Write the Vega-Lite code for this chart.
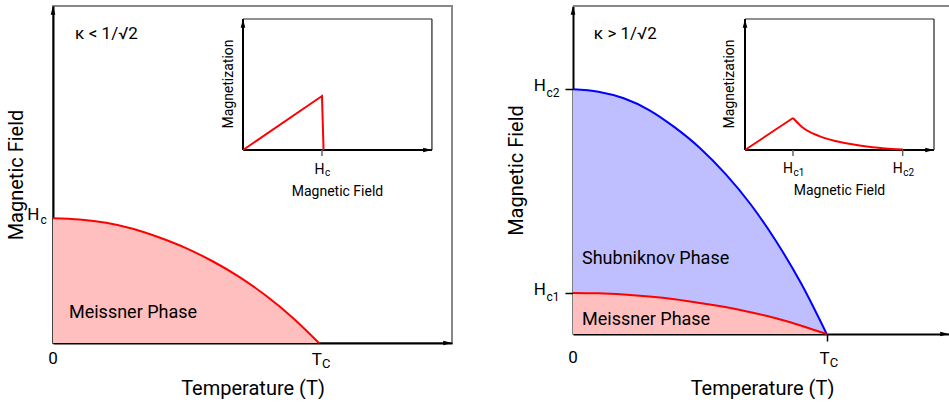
{
  "$schema": "https://vega.github.io/schema/vega-lite/v6.json",
  "padding": {"left": 5, "top": 5, "right": 0, "bottom": 0},
  "spacing": 53,
  "config": {
    "font": "Roboto",
    "view": {"stroke": null},
    "axis": {"grid": false, "labels": false, "ticks": false, "domainColor": "black", "domainWidth": 2, "titleFont": "Roboto", "titleFontSize": 20, "titleFontWeight": 400, "titleColor": "black", "zindex": 1},
    "style": {"guide-title": {"fontWeight": 400}},
    "text": {"color": "black", "font": "Roboto"}
  },
  "datasets": {
    "left_curve": [{"T": 0, "H": 1}, {"T": 0.1, "H": 0.99}, {"T": 0.2, "H": 0.963}, {"T": 0.3, "H": 0.915}, {"T": 0.4, "H": 0.845}, {"T": 0.5, "H": 0.76}, {"T": 0.6, "H": 0.655}, {"T": 0.7, "H": 0.53}, {"T": 0.8, "H": 0.38}, {"T": 0.9, "H": 0.205}, {"T": 1, "H": 0}],
    "right_curves": [{"T": 0, "Hc2": 1, "Hc1": 0.1675}, {"T": 0.1, "Hc2": 0.99, "Hc1": 0.166}, {"T": 0.2, "Hc2": 0.963, "Hc1": 0.161}, {"T": 0.3, "Hc2": 0.915, "Hc1": 0.153}, {"T": 0.4, "Hc2": 0.845, "Hc1": 0.142}, {"T": 0.5, "Hc2": 0.76, "Hc1": 0.127}, {"T": 0.6, "Hc2": 0.655, "Hc1": 0.11}, {"T": 0.7, "Hc2": 0.53, "Hc1": 0.089}, {"T": 0.8, "Hc2": 0.38, "Hc1": 0.064}, {"T": 0.9, "Hc2": 0.205, "Hc1": 0.034}, {"T": 1, "Hc2": 0, "Hc1": 0}]
  },
  "hconcat": [
    {
      "width": 399,
      "height": 337,
      "view": {"stroke": "#888888", "strokeWidth": 2},
      "resolve": {"scale": {"x": "independent", "y": "independent"}},
      "layer": [
        {
          "data": {"name": "left_curve"},
          "mark": {"type": "area", "color": "#ffbfbf", "interpolate": "monotone"},
          "encoding": {
            "x": {"field": "T", "type": "quantitative", "scale": {"domain": [0, 1.5], "nice": false, "zero": false}, "axis": {"title": "Temperature (T)", "titlePadding": 35, "titleFontWeight": 400, "titleFontSize": 20}},
            "y": {"field": "H", "type": "quantitative", "scale": {"domain": [0, 2.7], "nice": false, "zero": false}, "axis": {"title": "Magnetic Field", "titlePadding": 27, "titleFontWeight": 400, "titleFontSize": 20}}
          }
        },
        {
          "data": {"name": "left_curve"},
          "mark": {"type": "line", "color": "#ff0000", "strokeWidth": 2, "interpolate": "monotone"},
          "encoding": {
            "x": {"field": "T", "type": "quantitative", "scale": {"domain": [0, 1.5], "nice": false, "zero": false}, "axis": null},
            "y": {"field": "H", "type": "quantitative", "scale": {"domain": [0, 2.7], "nice": false, "zero": false}, "axis": null}
          }
        },
        {
          "data": {"values": [{"T": 0, "H": 2.7}]},
          "mark": {"type": "point", "shape": "M0,0L-0.55,2.1L0.55,2.1Z", "size": 70, "filled": true, "color": "black", "opacity": 1},
          "encoding": {
            "x": {"field": "T", "type": "quantitative", "scale": {"domain": [0, 1.5], "nice": false, "zero": false}, "axis": null},
            "y": {"field": "H", "type": "quantitative", "scale": {"domain": [0, 2.7], "nice": false, "zero": false}, "axis": null}
          }
        },
        {
          "data": {"values": [{"T": 1.5, "H": 0}]},
          "mark": {"type": "point", "shape": "M0,0L-2.1,-0.55L-2.1,0.55Z", "size": 70, "filled": true, "color": "black", "opacity": 1},
          "encoding": {
            "x": {"field": "T", "type": "quantitative", "scale": {"domain": [0, 1.5], "nice": false, "zero": false}, "axis": null},
            "y": {"field": "H", "type": "quantitative", "scale": {"domain": [0, 2.7], "nice": false, "zero": false}, "axis": null}
          }
        },
        {
          "data": {"values": [{"T": 0.083, "H": 2.473, "text": "κ < 1/√2"}]},
          "mark": {"type": "text", "align": "left", "baseline": "middle", "fontSize": 17},
          "encoding": {
            "x": {"field": "T", "type": "quantitative", "scale": {"domain": [0, 1.5], "nice": false, "zero": false}, "axis": null},
            "y": {"field": "H", "type": "quantitative", "scale": {"domain": [0, 2.7], "nice": false, "zero": false}, "axis": null},
            "text": {"field": "text"}
          }
        },
        {
          "data": {"values": [{"T": 0.06, "H": 0.243, "text": "Meissner Phase"}]},
          "mark": {"type": "text", "align": "left", "baseline": "middle", "fontSize": 18},
          "encoding": {
            "x": {"field": "T", "type": "quantitative", "scale": {"domain": [0, 1.5], "nice": false, "zero": false}, "axis": null},
            "y": {"field": "H", "type": "quantitative", "scale": {"domain": [0, 2.7], "nice": false, "zero": false}, "axis": null},
            "text": {"field": "text"}
          }
        },
        {
          "data": {"values": [{"T": 0, "H": 0, "text": "0"}]},
          "mark": {"type": "text", "align": "center", "baseline": "middle", "fontSize": 17, "dy": 16},
          "encoding": {
            "x": {"field": "T", "type": "quantitative", "scale": {"domain": [0, 1.5], "nice": false, "zero": false}, "axis": null},
            "y": {"field": "H", "type": "quantitative", "scale": {"domain": [0, 2.7], "nice": false, "zero": false}, "axis": null},
            "text": {"field": "text"}
          }
        },
        {
          "data": {"values": [{"T": 1, "H": 0, "text": "T"}]},
          "mark": {"type": "text", "align": "right", "baseline": "middle", "fontSize": 17, "dx": 3, "dy": 16.5},
          "encoding": {
            "x": {"field": "T", "type": "quantitative", "scale": {"domain": [0, 1.5], "nice": false, "zero": false}, "axis": null},
            "y": {"field": "H", "type": "quantitative", "scale": {"domain": [0, 2.7], "nice": false, "zero": false}, "axis": null},
            "text": {"field": "text"}
          }
        },
        {
          "data": {"values": [{"T": 1, "H": 0, "text": "C"}]},
          "mark": {"type": "text", "align": "left", "baseline": "middle", "fontSize": 13, "dx": 3, "dy": 21},
          "encoding": {
            "x": {"field": "T", "type": "quantitative", "scale": {"domain": [0, 1.5], "nice": false, "zero": false}, "axis": null},
            "y": {"field": "H", "type": "quantitative", "scale": {"domain": [0, 2.7], "nice": false, "zero": false}, "axis": null},
            "text": {"field": "text"}
          }
        },
        {
          "data": {"values": [{"T": 0, "H": 1, "text": "H"}]},
          "mark": {"type": "text", "align": "right", "baseline": "middle", "fontSize": 17, "dx": -13.5, "dy": -3},
          "encoding": {
            "x": {"field": "T", "type": "quantitative", "scale": {"domain": [0, 1.5], "nice": false, "zero": false}, "axis": null},
            "y": {"field": "H", "type": "quantitative", "scale": {"domain": [0, 2.7], "nice": false, "zero": false}, "axis": null},
            "text": {"field": "text"}
          }
        },
        {
          "data": {"values": [{"T": 0, "H": 1, "text": "c"}]},
          "mark": {"type": "text", "align": "left", "baseline": "middle", "fontSize": 12, "dx": -12.5, "dy": 2},
          "encoding": {
            "x": {"field": "T", "type": "quantitative", "scale": {"domain": [0, 1.5], "nice": false, "zero": false}, "axis": null},
            "y": {"field": "H", "type": "quantitative", "scale": {"domain": [0, 2.7], "nice": false, "zero": false}, "axis": null},
            "text": {"field": "text"}
          }
        },
        {
          "data": {"values": [{"B0": 0, "B1": 2.392, "M0": 0, "M1": 0}, {"B0": 0, "B1": 0, "M0": 0, "M1": 2.426}]},
          "mark": {"type": "rule", "color": "black", "strokeWidth": 2},
          "encoding": {
            "x": {"field": "B0", "type": "quantitative", "scale": {"domain": [-2.405, 2.646], "nice": false, "zero": false}, "axis": null},
            "x2": {"field": "B1"},
            "y": {"field": "M0", "type": "quantitative", "scale": {"domain": [-3.574, 2.667], "nice": false, "zero": false}, "axis": null},
            "y2": {"field": "M1"}
          }
        },
        {
          "data": {"values": [{"B0": 0, "B1": 2.392, "M0": 2.426, "M1": 2.426}, {"B0": 2.392, "B1": 2.392, "M0": 0, "M1": 2.426}]},
          "mark": {"type": "rule", "color": "#222222", "strokeWidth": 1.2},
          "encoding": {
            "x": {"field": "B0", "type": "quantitative", "scale": {"domain": [-2.405, 2.646], "nice": false, "zero": false}, "axis": null},
            "x2": {"field": "B1"},
            "y": {"field": "M0", "type": "quantitative", "scale": {"domain": [-3.574, 2.667], "nice": false, "zero": false}, "axis": null},
            "y2": {"field": "M1"}
          }
        },
        {
          "data": {"values": [{"B": 0, "M": 2.426}]},
          "mark": {"type": "point", "shape": "M0,0L-0.55,2.1L0.55,2.1Z", "size": 70, "filled": true, "color": "black", "opacity": 1},
          "encoding": {
            "x": {"field": "B", "type": "quantitative", "scale": {"domain": [-2.405, 2.646], "nice": false, "zero": false}, "axis": null},
            "y": {"field": "M", "type": "quantitative", "scale": {"domain": [-3.574, 2.667], "nice": false, "zero": false}, "axis": null}
          }
        },
        {
          "data": {"values": [{"B": 2.392, "M": 0}]},
          "mark": {"type": "point", "shape": "M0,0L-2.1,-0.55L-2.1,0.55Z", "size": 70, "filled": true, "color": "black", "opacity": 1},
          "encoding": {
            "x": {"field": "B", "type": "quantitative", "scale": {"domain": [-2.405, 2.646], "nice": false, "zero": false}, "axis": null},
            "y": {"field": "M", "type": "quantitative", "scale": {"domain": [-3.574, 2.667], "nice": false, "zero": false}, "axis": null}
          }
        },
        {
          "data": {"values": [{"B": 1, "M": 0}]},
          "mark": {"type": "point", "shape": "M0,0L0,1.5", "size": 64, "filled": false, "stroke": "#666666", "strokeWidth": 1.5, "opacity": 1},
          "encoding": {
            "x": {"field": "B", "type": "quantitative", "scale": {"domain": [-2.405, 2.646], "nice": false, "zero": false}, "axis": null},
            "y": {"field": "M", "type": "quantitative", "scale": {"domain": [-3.574, 2.667], "nice": false, "zero": false}, "axis": null}
          }
        },
        {
          "data": {"values": [{"B": 0, "M": 0}, {"B": 1, "M": 1}, {"B": 1.02, "M": 0}]},
          "mark": {"type": "line", "color": "#ff0000", "strokeWidth": 2},
          "encoding": {
            "x": {"field": "B", "type": "quantitative", "scale": {"domain": [-2.405, 2.646], "nice": false, "zero": false}, "axis": null},
            "y": {"field": "M", "type": "quantitative", "scale": {"domain": [-3.574, 2.667], "nice": false, "zero": false}, "axis": null}
          }
        },
        {
          "data": {"values": [{"B": 1.196, "M": -0.778, "text": "Magnetic Field"}]},
          "mark": {"type": "text", "align": "center", "baseline": "middle", "fontSize": 14},
          "encoding": {
            "x": {"field": "B", "type": "quantitative", "scale": {"domain": [-2.405, 2.646], "nice": false, "zero": false}, "axis": null},
            "y": {"field": "M", "type": "quantitative", "scale": {"domain": [-3.574, 2.667], "nice": false, "zero": false}, "axis": null},
            "text": {"field": "text"}
          }
        },
        {
          "data": {"values": [{"B": -0.177, "M": 1.222, "text": "Magnetization"}]},
          "mark": {"type": "text", "align": "center", "baseline": "middle", "fontSize": 14, "angle": 270},
          "encoding": {
            "x": {"field": "B", "type": "quantitative", "scale": {"domain": [-2.405, 2.646], "nice": false, "zero": false}, "axis": null},
            "y": {"field": "M", "type": "quantitative", "scale": {"domain": [-3.574, 2.667], "nice": false, "zero": false}, "axis": null},
            "text": {"field": "text"}
          }
        },
        {
          "data": {"values": [{"B": 1, "M": 0, "text": "H"}]},
          "mark": {"type": "text", "align": "right", "baseline": "middle", "fontSize": 14, "dx": 2.5, "dy": 19.5},
          "encoding": {
            "x": {"field": "B", "type": "quantitative", "scale": {"domain": [-2.405, 2.646], "nice": false, "zero": false}, "axis": null},
            "y": {"field": "M", "type": "quantitative", "scale": {"domain": [-3.574, 2.667], "nice": false, "zero": false}, "axis": null},
            "text": {"field": "text"}
          }
        },
        {
          "data": {"values": [{"B": 1, "M": 0, "text": "c"}]},
          "mark": {"type": "text", "align": "left", "baseline": "middle", "fontSize": 10, "dx": 3, "dy": 23},
          "encoding": {
            "x": {"field": "B", "type": "quantitative", "scale": {"domain": [-2.405, 2.646], "nice": false, "zero": false}, "axis": null},
            "y": {"field": "M", "type": "quantitative", "scale": {"domain": [-3.574, 2.667], "nice": false, "zero": false}, "axis": null},
            "text": {"field": "text"}
          }
        }
      ]
    },
    {
      "width": 378,
      "height": 328,
      "resolve": {"scale": {"x": "independent", "y": "independent"}},
      "layer": [
        {
          "data": {"name": "right_curves"},
          "mark": {"type": "area", "color": "#bfbfff", "interpolate": "monotone"},
          "encoding": {
            "x": {"field": "T", "type": "quantitative", "scale": {"domain": [0, 1.49], "nice": false, "zero": false}, "axis": {"title": "Temperature (T)", "titlePadding": 37, "titleFontWeight": 400, "titleFontSize": 20, "values": [1], "ticks": true, "tickSize": 7, "tickColor": "black", "tickWidth": 1.5}},
            "y": {"field": "Hc2", "type": "quantitative", "scale": {"domain": [0, 1.34], "nice": false, "zero": false}, "axis": {"title": "Magnetic Field", "titlePadding": 38, "titleFontWeight": 400, "titleFontSize": 20, "values": [0.1675, 1], "ticks": true, "tickSize": 8, "tickColor": "black", "tickWidth": 1.5}},
            "y2": {"field": "Hc1"}
          }
        },
        {
          "data": {"name": "right_curves"},
          "mark": {"type": "area", "color": "#ffbfbf", "interpolate": "monotone"},
          "encoding": {
            "x": {"field": "T", "type": "quantitative", "scale": {"domain": [0, 1.49], "nice": false, "zero": false}, "axis": null},
            "y": {"field": "Hc1", "type": "quantitative", "scale": {"domain": [0, 1.34], "nice": false, "zero": false}, "axis": null}
          }
        },
        {
          "data": {"name": "right_curves"},
          "mark": {"type": "line", "color": "#0000ff", "strokeWidth": 2, "interpolate": "monotone"},
          "encoding": {
            "x": {"field": "T", "type": "quantitative", "scale": {"domain": [0, 1.49], "nice": false, "zero": false}, "axis": null},
            "y": {"field": "Hc2", "type": "quantitative", "scale": {"domain": [0, 1.34], "nice": false, "zero": false}, "axis": null}
          }
        },
        {
          "data": {"name": "right_curves"},
          "mark": {"type": "line", "color": "#ff0000", "strokeWidth": 2, "interpolate": "monotone"},
          "encoding": {
            "x": {"field": "T", "type": "quantitative", "scale": {"domain": [0, 1.49], "nice": false, "zero": false}, "axis": null},
            "y": {"field": "Hc1", "type": "quantitative", "scale": {"domain": [0, 1.34], "nice": false, "zero": false}, "axis": null}
          }
        },
        {
          "data": {"values": [{"T0": 0, "T1": 1.49, "H0": 1.34, "H1": 1.34}]},
          "mark": {"type": "rule", "color": "#888888", "strokeWidth": 2},
          "encoding": {
            "x": {"field": "T0", "type": "quantitative", "scale": {"domain": [0, 1.49], "nice": false, "zero": false}, "axis": null},
            "x2": {"field": "T1"},
            "y": {"field": "H0", "type": "quantitative", "scale": {"domain": [0, 1.34], "nice": false, "zero": false}, "axis": null},
            "y2": {"field": "H1"}
          }
        },
        {
          "data": {"values": [{"T": 0, "H": 1.34}]},
          "mark": {"type": "point", "shape": "M0,0L-0.55,2.1L0.55,2.1Z", "size": 70, "filled": true, "color": "black", "opacity": 1},
          "encoding": {
            "x": {"field": "T", "type": "quantitative", "scale": {"domain": [0, 1.49], "nice": false, "zero": false}, "axis": null},
            "y": {"field": "H", "type": "quantitative", "scale": {"domain": [0, 1.34], "nice": false, "zero": false}, "axis": null}
          }
        },
        {
          "data": {"values": [{"T": 1.482, "H": 0}]},
          "mark": {"type": "point", "shape": "M0,0L-2.1,-0.55L-2.1,0.55Z", "size": 70, "filled": true, "color": "black", "opacity": 1},
          "encoding": {
            "x": {"field": "T", "type": "quantitative", "scale": {"domain": [0, 1.49], "nice": false, "zero": false}, "axis": null},
            "y": {"field": "H", "type": "quantitative", "scale": {"domain": [0, 1.34], "nice": false, "zero": false}, "axis": null}
          }
        },
        {
          "data": {"values": [{"T": 0.0816, "H": 1.224, "text": "κ > 1/√2"}]},
          "mark": {"type": "text", "align": "left", "baseline": "middle", "fontSize": 17},
          "encoding": {
            "x": {"field": "T", "type": "quantitative", "scale": {"domain": [0, 1.49], "nice": false, "zero": false}, "axis": null},
            "y": {"field": "H", "type": "quantitative", "scale": {"domain": [0, 1.34], "nice": false, "zero": false}, "axis": null},
            "text": {"field": "text"}
          }
        },
        {
          "data": {"values": [{"T": 0.0355, "H": 0.305, "text": "Shubniknov Phase"}, {"T": 0.0355, "H": 0.056, "text": "Meissner Phase"}]},
          "mark": {"type": "text", "align": "left", "baseline": "middle", "fontSize": 18},
          "encoding": {
            "x": {"field": "T", "type": "quantitative", "scale": {"domain": [0, 1.49], "nice": false, "zero": false}, "axis": null},
            "y": {"field": "H", "type": "quantitative", "scale": {"domain": [0, 1.34], "nice": false, "zero": false}, "axis": null},
            "text": {"field": "text"}
          }
        },
        {
          "data": {"values": [{"T": 0, "H": 0, "text": "0"}]},
          "mark": {"type": "text", "align": "center", "baseline": "middle", "fontSize": 17, "dy": 24},
          "encoding": {
            "x": {"field": "T", "type": "quantitative", "scale": {"domain": [0, 1.49], "nice": false, "zero": false}, "axis": null},
            "y": {"field": "H", "type": "quantitative", "scale": {"domain": [0, 1.34], "nice": false, "zero": false}, "axis": null},
            "text": {"field": "text"}
          }
        },
        {
          "data": {"values": [{"T": 1, "H": 0, "text": "T"}]},
          "mark": {"type": "text", "align": "right", "baseline": "middle", "fontSize": 17, "dx": 3, "dy": 24.5},
          "encoding": {
            "x": {"field": "T", "type": "quantitative", "scale": {"domain": [0, 1.49], "nice": false, "zero": false}, "axis": null},
            "y": {"field": "H", "type": "quantitative", "scale": {"domain": [0, 1.34], "nice": false, "zero": false}, "axis": null},
            "text": {"field": "text"}
          }
        },
        {
          "data": {"values": [{"T": 1, "H": 0, "text": "C"}]},
          "mark": {"type": "text", "align": "left", "baseline": "middle", "fontSize": 13, "dx": 3, "dy": 29},
          "encoding": {
            "x": {"field": "T", "type": "quantitative", "scale": {"domain": [0, 1.49], "nice": false, "zero": false}, "axis": null},
            "y": {"field": "H", "type": "quantitative", "scale": {"domain": [0, 1.34], "nice": false, "zero": false}, "axis": null},
            "text": {"field": "text"}
          }
        },
        {
          "data": {"values": [{"T": 0, "H": 1, "text": "H"}, {"T": 0, "H": 0.1675, "text": "H"}]},
          "mark": {"type": "text", "align": "right", "baseline": "middle", "fontSize": 17, "dx": -27, "dy": -3.5},
          "encoding": {
            "x": {"field": "T", "type": "quantitative", "scale": {"domain": [0, 1.49], "nice": false, "zero": false}, "axis": null},
            "y": {"field": "H", "type": "quantitative", "scale": {"domain": [0, 1.34], "nice": false, "zero": false}, "axis": null},
            "text": {"field": "text"}
          }
        },
        {
          "data": {"values": [{"T": 0, "H": 1, "text": "c2"}, {"T": 0, "H": 0.1675, "text": "c1"}]},
          "mark": {"type": "text", "align": "left", "baseline": "middle", "fontSize": 12, "dx": -26.5, "dy": 3.5},
          "encoding": {
            "x": {"field": "T", "type": "quantitative", "scale": {"domain": [0, 1.49], "nice": false, "zero": false}, "axis": null},
            "y": {"field": "H", "type": "quantitative", "scale": {"domain": [0, 1.34], "nice": false, "zero": false}, "axis": null},
            "text": {"field": "text"}
          }
        },
        {
          "data": {"values": [{"B0": 0, "B1": 3.9375, "M0": 0, "M1": 0}, {"B0": 0, "B1": 0, "M0": 0, "M1": 4.094}]},
          "mark": {"type": "rule", "color": "black", "strokeWidth": 2},
          "encoding": {
            "x": {"field": "B0", "type": "quantitative", "scale": {"domain": [-3.5833, 4.2917], "nice": false, "zero": false}, "axis": null},
            "x2": {"field": "B1"},
            "y": {"field": "M0", "type": "quantitative", "scale": {"domain": [-5.75, 4.5], "nice": false, "zero": false}, "axis": null},
            "y2": {"field": "M1"}
          }
        },
        {
          "data": {"values": [{"B0": 0, "B1": 3.9375, "M0": 4.094, "M1": 4.094}, {"B0": 3.9375, "B1": 3.9375, "M0": 0, "M1": 4.094}]},
          "mark": {"type": "rule", "color": "#222222", "strokeWidth": 1.2},
          "encoding": {
            "x": {"field": "B0", "type": "quantitative", "scale": {"domain": [-3.5833, 4.2917], "nice": false, "zero": false}, "axis": null},
            "x2": {"field": "B1"},
            "y": {"field": "M0", "type": "quantitative", "scale": {"domain": [-5.75, 4.5], "nice": false, "zero": false}, "axis": null},
            "y2": {"field": "M1"}
          }
        },
        {
          "data": {"values": [{"B": 0, "M": 4.094}]},
          "mark": {"type": "point", "shape": "M0,0L-0.55,2.1L0.55,2.1Z", "size": 70, "filled": true, "color": "black", "opacity": 1},
          "encoding": {
            "x": {"field": "B", "type": "quantitative", "scale": {"domain": [-3.5833, 4.2917], "nice": false, "zero": false}, "axis": null},
            "y": {"field": "M", "type": "quantitative", "scale": {"domain": [-5.75, 4.5], "nice": false, "zero": false}, "axis": null}
          }
        },
        {
          "data": {"values": [{"B": 3.9375, "M": 0}]},
          "mark": {"type": "point", "shape": "M0,0L-2.1,-0.55L-2.1,0.55Z", "size": 70, "filled": true, "color": "black", "opacity": 1},
          "encoding": {
            "x": {"field": "B", "type": "quantitative", "scale": {"domain": [-3.5833, 4.2917], "nice": false, "zero": false}, "axis": null},
            "y": {"field": "M", "type": "quantitative", "scale": {"domain": [-5.75, 4.5], "nice": false, "zero": false}, "axis": null}
          }
        },
        {
          "data": {"values": [{"B": 1, "M": 0}, {"B": 3.285, "M": 0}]},
          "mark": {"type": "point", "shape": "M0,0L0,1.5", "size": 64, "filled": false, "stroke": "#666666", "strokeWidth": 1.5, "opacity": 1},
          "encoding": {
            "x": {"field": "B", "type": "quantitative", "scale": {"domain": [-3.5833, 4.2917], "nice": false, "zero": false}, "axis": null},
            "y": {"field": "M", "type": "quantitative", "scale": {"domain": [-5.75, 4.5], "nice": false, "zero": false}, "axis": null}
          }
        },
        {
          "data": {"values": [{"B": 0, "M": 0}, {"B": 1, "M": 1}]},
          "mark": {"type": "line", "color": "#ff0000", "strokeWidth": 2},
          "encoding": {
            "x": {"field": "B", "type": "quantitative", "scale": {"domain": [-3.5833, 4.2917], "nice": false, "zero": false}, "axis": null},
            "y": {"field": "M", "type": "quantitative", "scale": {"domain": [-5.75, 4.5], "nice": false, "zero": false}, "axis": null}
          }
        },
        {
          "data": {"values": [{"B": 1, "M": 1}, {"B": 1.1875, "M": 0.72}, {"B": 1.535, "M": 0.44}, {"B": 1.88, "M": 0.28}, {"B": 2.23, "M": 0.18}, {"B": 2.58, "M": 0.1}, {"B": 2.92, "M": 0.05}, {"B": 3.285, "M": 0.015}]},
          "mark": {"type": "line", "color": "#ff0000", "strokeWidth": 2, "interpolate": "monotone"},
          "encoding": {
            "x": {"field": "B", "type": "quantitative", "scale": {"domain": [-3.5833, 4.2917], "nice": false, "zero": false}, "axis": null},
            "y": {"field": "M", "type": "quantitative", "scale": {"domain": [-5.75, 4.5], "nice": false, "zero": false}, "axis": null}
          }
        },
        {
          "data": {"values": [{"B": 1.969, "M": -1.281, "text": "Magnetic Field"}]},
          "mark": {"type": "text", "align": "center", "baseline": "middle", "fontSize": 14},
          "encoding": {
            "x": {"field": "B", "type": "quantitative", "scale": {"domain": [-3.5833, 4.2917], "nice": false, "zero": false}, "axis": null},
            "y": {"field": "M", "type": "quantitative", "scale": {"domain": [-5.75, 4.5], "nice": false, "zero": false}, "axis": null},
            "text": {"field": "text"}
          }
        },
        {
          "data": {"values": [{"B": -0.3125, "M": 2.0625, "text": "Magnetization"}]},
          "mark": {"type": "text", "align": "center", "baseline": "middle", "fontSize": 14, "angle": 270},
          "encoding": {
            "x": {"field": "B", "type": "quantitative", "scale": {"domain": [-3.5833, 4.2917], "nice": false, "zero": false}, "axis": null},
            "y": {"field": "M", "type": "quantitative", "scale": {"domain": [-5.75, 4.5], "nice": false, "zero": false}, "axis": null},
            "text": {"field": "text"}
          }
        },
        {
          "data": {"values": [{"B": 1, "M": 0, "text": "H"}, {"B": 3.285, "M": 0, "text": "H"}]},
          "mark": {"type": "text", "align": "right", "baseline": "middle", "fontSize": 14, "dx": 0, "dy": 19.3},
          "encoding": {
            "x": {"field": "B", "type": "quantitative", "scale": {"domain": [-3.5833, 4.2917], "nice": false, "zero": false}, "axis": null},
            "y": {"field": "M", "type": "quantitative", "scale": {"domain": [-5.75, 4.5], "nice": false, "zero": false}, "axis": null},
            "text": {"field": "text"}
          }
        },
        {
          "data": {"values": [{"B": 1, "M": 0, "text": "c1"}, {"B": 3.285, "M": 0, "text": "c2"}]},
          "mark": {"type": "text", "align": "left", "baseline": "middle", "fontSize": 10, "dx": 0.5, "dy": 23},
          "encoding": {
            "x": {"field": "B", "type": "quantitative", "scale": {"domain": [-3.5833, 4.2917], "nice": false, "zero": false}, "axis": null},
            "y": {"field": "M", "type": "quantitative", "scale": {"domain": [-5.75, 4.5], "nice": false, "zero": false}, "axis": null},
            "text": {"field": "text"}
          }
        }
      ]
    }
  ]
}
